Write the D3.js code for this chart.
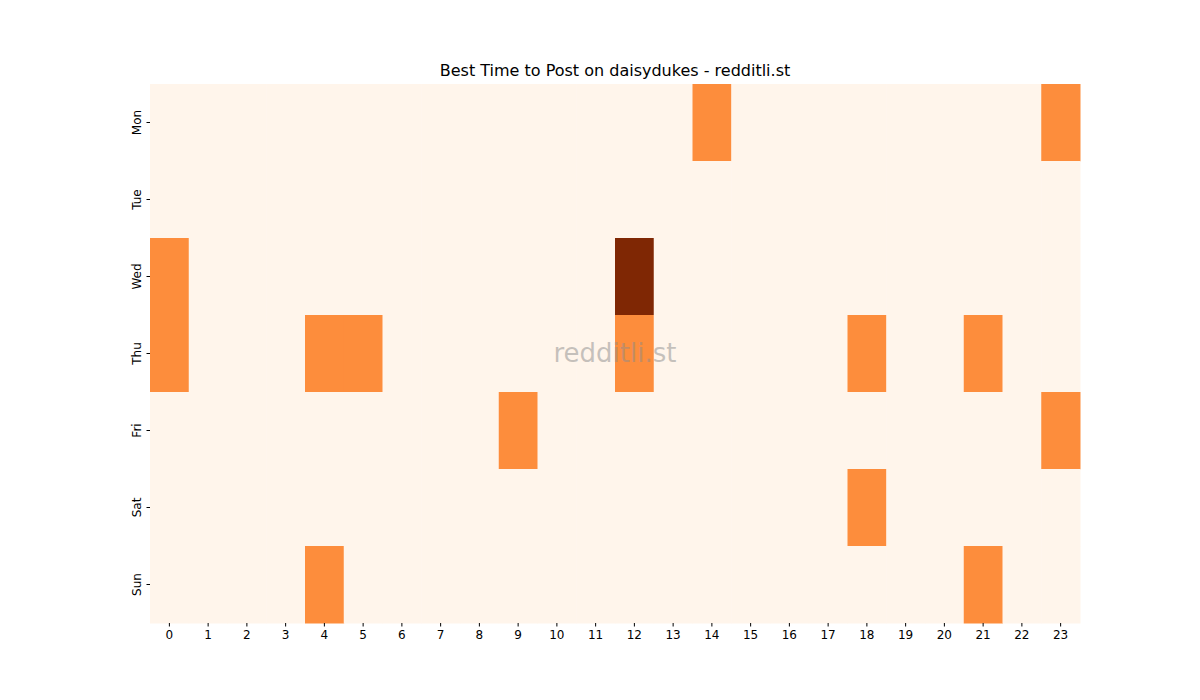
<!DOCTYPE html>
<html><head><meta charset="utf-8">
<script src="https://cdn.jsdelivr.net/npm/d3@7"></script>
<style>body{margin:0;background:#fff}text{font-family:"DejaVu Sans",sans-serif}</style>
</head><body><svg id="c" width="1200" height="700"></svg>
<script>
const days = ["Mon","Tue","Wed","Thu","Fri","Sat","Sun"];
const hours = d3.range(24).map(String);
// non-zero cells: [day, hour, value]
const cells = [
  ["Mon",14,1],["Mon",23,1],
  ["Wed",0,1],["Wed",12,2],
  ["Thu",0,1],["Thu",4,1],["Thu",5,1],["Thu",12,1],["Thu",18,1],["Thu",21,1],
  ["Fri",9,1],["Fri",23,1],
  ["Sat",18,1],
  ["Sun",4,1],["Sun",21,1]
];
const title = "Best Time to Post on daisydukes - redditli.st";

const svg = d3.select("#c");
const m = {l:150, r:1080, t:84, b:623};
const x = d3.scaleBand().domain(hours).range([m.l, m.r]);
const y = d3.scaleBand().domain(days).range([m.t, m.b]);
const color = d3.scaleSequential(d3.interpolateOranges).domain([0,2]);
const lookup = new Map(cells.map(c => [c[0]+"-"+c[1], c[2]]));
const grid = [];
days.forEach(d => hours.forEach(h => grid.push({d, h, v: lookup.get(d+"-"+h) || 0})));
svg.append("g").selectAll("rect").data(grid).join("rect")
  .attr("x", c => x(c.h)).attr("y", c => y(c.d))
  .attr("width", x.bandwidth()+0.5).attr("height", y.bandwidth()+0.5)
  .attr("fill", c => c.v===0 ? "#fff5eb" : c.v===1 ? "#fd8d3c" : "#7f2704");

const xa = svg.append("g").attr("transform",`translate(0,${m.b})`)
  .call(d3.axisBottom(x).tickSize(3.5).tickPadding(4));
xa.select(".domain").remove();
xa.selectAll("text").attr("font-size",12).attr("fill","#000");
const ya = svg.append("g").attr("transform",`translate(${m.l},0)`)
  .call(d3.axisLeft(y).tickSize(3.5).tickPadding(4));
ya.select(".domain").remove();
ya.selectAll("text").attr("font-size",12).attr("fill","#000")
  .attr("text-anchor","middle").attr("transform", function(){
    return "rotate(-90)";
  }).attr("x", 0).attr("y", 0)
  .each(function(d){
    d3.select(this).attr("transform", `translate(-13,${0}) rotate(-90)`).attr("dy","0.35em");
  });

svg.append("text").attr("x",615).attr("y",76).attr("text-anchor","middle")
  .attr("font-size",16).text(title);
svg.append("text").attr("x",615).attr("y",362).attr("text-anchor","middle")
  .attr("font-size",26).attr("fill","#8c8c8c").attr("fill-opacity",0.5).text("redditli.st");
</script></body></html>
